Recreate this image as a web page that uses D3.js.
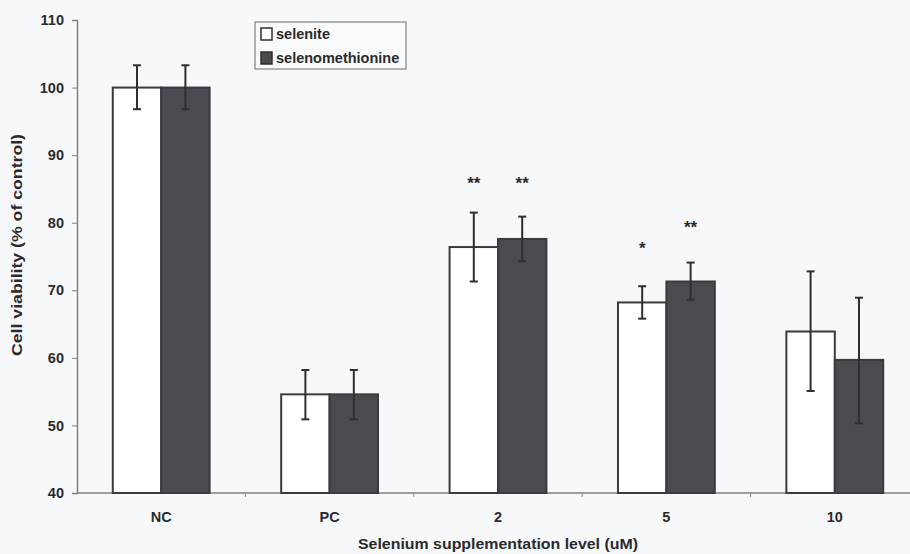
<!DOCTYPE html>
<html>
<head>
<meta charset="utf-8">
<script src="https://cdn.jsdelivr.net/npm/d3@7"></script>
<style>
  body { margin: 0; background: #f6f8f9; }
  text { font-family: "Liberation Sans", Arial, sans-serif; fill: #2a2a2e; }
</style>
</head>
<body>
<svg id="chart" width="910" height="554"></svg>
<script>

var categories = ["NC", "PC", "2", "5", "10"];
var seriesNames = ["selenite", "selenomethionine"];

// mean, lower and upper ends of the error bars, per category
var seleniteMean = [100, 54.6, 76.4, 68.2, 63.9];
var seleniteLow  = [96.8, 50.9, 71.3, 65.8, 55.1];
var seleniteHigh = [103.3, 58.2, 81.5, 70.6, 72.8];

var selenoMean = [100, 54.6, 77.6, 71.3, 59.7];
var selenoLow  = [96.8, 50.9, 74.3, 68.6, 50.3];
var selenoHigh = [103.3, 58.2, 80.9, 74.1, 68.9];

// significance marks and the value level they sit at
var seleniteStars = ["", "", "**", "*", ""];
var selenoStars   = ["", "", "**", "**", ""];
var seleniteStarLevel = [0, 0, 86.1, 76.6, 0];
var selenoStarLevel   = [0, 0, 86.1, 79.6, 0];

var yTicks = [40, 50, 60, 70, 80, 90, 100, 110];

//=========================================================================
// Scales
//=========================================================================
var svg = d3.select("#chart");

var plotLeft = 77, plotRight = 919, plotTop = 20, plotBottom = 493;

var x0 = d3.scaleBand()
  .domain(categories)
  .range([plotLeft, plotRight])
  .paddingInner(0.425)
  .paddingOuter(0.2125);

var x1 = d3.scaleBand()
  .domain(seriesNames)
  .range([0, x0.bandwidth()]);

var y = d3.scaleLinear().domain([40, 110]).range([plotBottom, plotTop]);

var fills = { selenite: "#ffffff", selenomethionine: "#4a4a50" };

var rows = [];
categories.forEach(function(c, i){
  rows.push({ cat: c, s: "selenite", v: seleniteMean[i], lo: seleniteLow[i], hi: seleniteHigh[i],
              star: seleniteStars[i], starAt: seleniteStarLevel[i] });
  rows.push({ cat: c, s: "selenomethionine", v: selenoMean[i], lo: selenoLow[i], hi: selenoHigh[i],
              star: selenoStars[i], starAt: selenoStarLevel[i] });
});

//=========================================================================
// Axes
//=========================================================================
var yAxis = svg.append("g")
  .attr("transform", "translate(" + plotLeft + ",0)")
  .call(d3.axisLeft(y).tickValues(yTicks).tickSize(5).tickPadding(8));
yAxis.select(".domain").attr("stroke", "#808084").attr("stroke-width", 1.5);
yAxis.selectAll(".tick line").attr("stroke", "#808084");
yAxis.selectAll(".tick text")
  .style("font-size", "14.5px").style("font-weight", "bold")
  .attr("fill", "#333338");

// baseline
svg.append("line")
  .attr("x1", plotLeft).attr("x2", 910)
  .attr("y1", y(40)).attr("y2", y(40))
  .attr("stroke", "#808084").attr("stroke-width", 1.5);

// tick marks between categories
svg.append("g").selectAll("line")
  .data(categories.slice(1))
  .enter().append("line")
  .attr("x1", function(d){ return x0(d) - x0.step() * x0.paddingInner() / 2; })
  .attr("x2", function(d){ return x0(d) - x0.step() * x0.paddingInner() / 2; })
  .attr("y1", y(40)).attr("y2", y(40) + 4)
  .attr("stroke", "#8a8a8e");

svg.append("g").selectAll("text")
  .data(categories)
  .enter().append("text")
  .attr("x", function(d){ return x0(d) + x0.bandwidth() / 2; })
  .attr("y", 522)
  .attr("text-anchor", "middle")
  .style("font-size", "14.5px").style("font-weight", "bold")
  .attr("fill", "#333338")
  .text(function(d){ return d; });

svg.append("text")
  .attr("x", (plotLeft + plotRight) / 2)
  .attr("y", 549)
  .attr("text-anchor", "middle")
  .attr("textLength", 280)
  .attr("lengthAdjust", "spacingAndGlyphs")
  .style("font-size", "15px").style("font-weight", "bold")
  .text("Selenium supplementation level (uM)");

svg.append("text")
  .attr("transform", "translate(22,245) rotate(-90)")
  .attr("text-anchor", "middle")
  .attr("textLength", 222)
  .attr("lengthAdjust", "spacingAndGlyphs")
  .style("font-size", "15px").style("font-weight", "bold")
  .text("Cell viability (% of control)");

//=========================================================================
// Bars, error bars, stars
//=========================================================================
var g = svg.append("g");

g.selectAll("rect.bar")
  .data(rows)
  .enter().append("rect")
  .attr("class", "bar")
  .attr("x", function(d){ return x0(d.cat) + x1(d.s); })
  .attr("width", x1.bandwidth())
  .attr("y", function(d){ return y(d.v); })
  .attr("height", function(d){ return y(40) - y(d.v); })
  .attr("fill", function(d){ return fills[d.s]; })
  .attr("stroke", "#3a3a40")
  .attr("stroke-width", 2);

var eb = g.selectAll("g.err")
  .data(rows)
  .enter().append("g")
  .attr("class", "err")
  .attr("stroke", "#2e2e33")
  .attr("stroke-width", 2);

function cx(d){ return x0(d.cat) + x1(d.s) + x1.bandwidth() / 2; }

eb.append("line")
  .attr("x1", cx).attr("x2", cx)
  .attr("y1", function(d){ return y(d.lo); })
  .attr("y2", function(d){ return y(d.hi); });
eb.append("line")
  .attr("x1", function(d){ return cx(d) - 4; }).attr("x2", function(d){ return cx(d) + 4; })
  .attr("y1", function(d){ return y(d.hi); }).attr("y2", function(d){ return y(d.hi); });
eb.append("line")
  .attr("x1", function(d){ return cx(d) - 4; }).attr("x2", function(d){ return cx(d) + 4; })
  .attr("y1", function(d){ return y(d.lo); }).attr("y2", function(d){ return y(d.lo); });

g.selectAll("text.star")
  .data(rows.filter(function(d){ return d.star; }))
  .enter().append("text")
  .attr("class", "star")
  .attr("x", cx)
  .attr("y", function(d){ return y(d.starAt) + 8; })
  .attr("text-anchor", "middle")
  .style("font-size", "17px").style("font-weight", "bold")
  .text(function(d){ return d.star; });

//=========================================================================
// Legend
//=========================================================================
var legend = svg.append("g");
legend.append("rect")
  .attr("x", 255).attr("y", 22)
  .attr("width", 151).attr("height", 47)
  .attr("fill", "#f9fafb").attr("stroke", "#6a6a70").attr("stroke-width", 1);

var li = legend.selectAll("g.item")
  .data(seriesNames)
  .enter().append("g")
  .attr("transform", function(d, i){ return "translate(261," + (28 + i * 24) + ")"; });
li.append("rect")
  .attr("width", 11).attr("height", 12)
  .attr("fill", function(d){ return fills[d]; })
  .attr("stroke", "#2e2e33").attr("stroke-width", 1.5);
li.append("text")
  .attr("x", 15).attr("y", 11)
  .style("font-size", "14.5px").style("font-weight", "bold")
  .text(function(d){ return d; });

</script>
</body>
</html>
